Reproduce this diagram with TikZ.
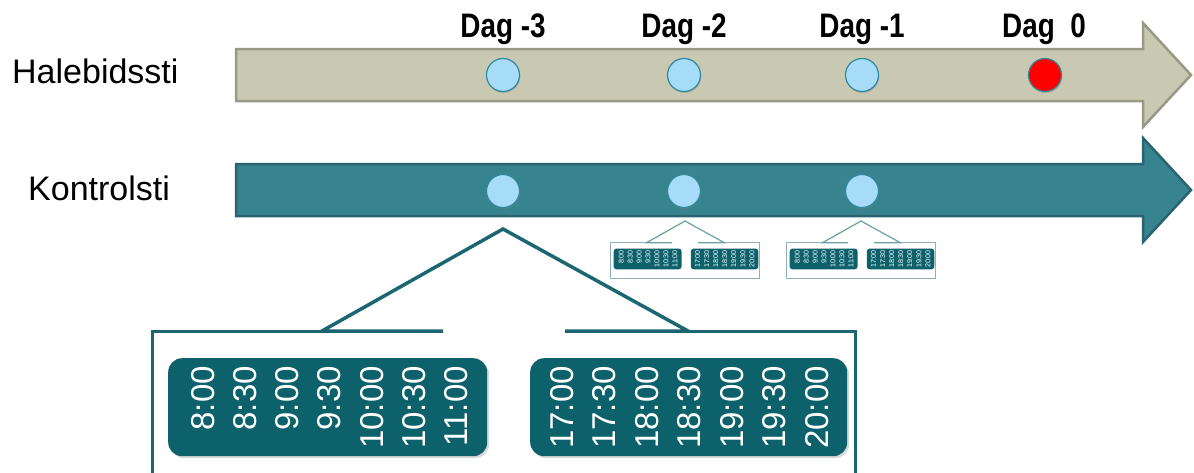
\documentclass[tikz,border=0pt]{standalone}
\usepackage{fontspec}
\setmainfont{Liberation Sans}
\newfontfamily\dagfont[FakeStretch=0.82]{Liberation Sans}
\usetikzlibrary{shadows}
\definecolor{sandfill}{HTML}{C9C8B2}
\definecolor{sandedge}{HTML}{9A9986}
\definecolor{tealfill}{HTML}{37838F}
\definecolor{tealedge}{HTML}{2A6470}
\definecolor{dotfill}{HTML}{A6DCF7}
\definecolor{dotedge}{HTML}{2F8A9C}
\definecolor{boxfill}{HTML}{0C616B}
\definecolor{callline}{HTML}{1B6670}
\definecolor{smallline}{HTML}{6B9FA6}
\definecolor{smallframecol}{HTML}{8FB0B5}
\tikzset{
 sandarrow/.style={fill=sandfill, draw=sandedge, line width=2.5pt, line join=miter},
 tealarrow/.style={fill=tealfill, draw=tealedge, line width=2.5pt, line join=miter},
 dot/.style={circle, inner sep=0pt, minimum size=33pt, draw=dotedge, line width=1.2pt, fill=dotfill,
   drop shadow={opacity=0.35, shadow xshift=0.8pt, shadow yshift=-1.5pt}},
 hotdot/.style={dot, fill=red},
 daglabel/.style={inner sep=0pt, anchor=base, font=\dagfont\bfseries\fontsize{34}{40}\selectfont},
 rowlabel/.style={inner sep=0pt, anchor=base west, font=\fontsize{34}{40}\selectfont},
 bigleg/.style={draw=callline, line width=3.5pt},
 bigframe/.style={draw=callline, line width=3pt},
 bigslot/.style={fill=boxfill, rounded corners=14pt, inner sep=0pt,
   drop shadow={opacity=0.3, shadow xshift=2pt, shadow yshift=-2pt}},
 bigtime/.style={text=white, rotate=90, inner sep=0pt, font=\fontsize{33}{36}\selectfont},
 smallleg/.style={draw=smallline, line width=1.2pt},
 smallframe/.style={draw=smallframecol, line width=1pt},
 smallslot/.style={fill=boxfill, rounded corners=3pt, inner sep=0pt},
 smalltime/.style={bigtime},
}
% #1 name, #2 apex, #3 scale, #4 style prefix
\newcommand\timecallout[4]{%
\begin{scope}[shift={#2}, scale=#3, transform shape]
 \coordinate (#1-apex) at (0,0);
 \coordinate (#1-l) at (-181,102);
 \coordinate (#1-lg) at (-60,102);
 \coordinate (#1-rg) at (62,102);
 \coordinate (#1-r) at (185,102);
 \coordinate (#1-tl) at (-351,102);
 \coordinate (#1-tr) at (352,102);
 \coordinate (#1-bl) at (-351,270);
 \coordinate (#1-br) at (352,270);
 \draw[#4frame] (#1-lg) -- (#1-tl) -- (#1-bl) -- (#1-br) -- (#1-tr) -- (#1-rg);
 \draw[#4leg] (#1-lg) -- (#1-l) -- (#1-apex) -- (#1-r) -- (#1-rg);
 \node[#4slot, minimum width=319pt, minimum height=98pt, anchor=north west] (#1-am) at (-335,129) {};
 \node[#4slot, minimum width=317pt, minimum height=98pt, anchor=north west] (#1-pm) at (27,129) {};
 \foreach \t [count=\i from 0] in {8:00,8:30,9:00,9:30,10:00,10:30,11:00}
   \node[#4time, anchor=east] (#1-a\i) at (-300+42.2*\i,137) {\t};
 \foreach \t [count=\i from 0] in {17:00,17:30,18:00,18:30,19:00,19:30,20:00}
   \node[#4time, anchor=east] (#1-p\i) at (59+42.5*\i,137) {\t};
\end{scope}}
\begin{document}
\begin{tikzpicture}[x=1pt,y=-1pt]
\clip (0,0) rectangle (1194,472);
\fill[white] (0,0) rectangle (1194,472);
% timelines
\draw[sandarrow] (236,49) -- (1143,49) -- (1143,23) -- (1191,75) -- (1143,127) -- (1143,101) -- (236,101) -- cycle;
\draw[tealarrow] (236,164) -- (1143,164) -- (1143,138) -- (1191,190) -- (1143,242) -- (1143,216) -- (236,216) -- cycle;
% row labels
\node[rowlabel] (hal) at (12,83) {Halebidssti};
\node[rowlabel] (kon) at (28,200) {Kontrolsti};
% day labels
\node[daglabel] (d3) at (503,37) {Dag -3};
\node[daglabel] (d2) at (684,37) {Dag -2};
\node[daglabel] (d1) at (862,37) {Dag -1};
\node[daglabel] (d0) at (1044,37) {Dag~~0};
% dots
\node[dot] (h3) at (503,75) {};
\node[dot] (h2) at (684,75) {};
\node[dot] (h1) at (862,75) {};
\node[hotdot] (h0) at (1045,75) {};
\node[dot] (k3) at (503,191) {};
\node[dot] (k2) at (684,191) {};
\node[dot] (k1) at (862,191) {};
% callouts
\timecallout{big}{(503,229)}{1}{big}
\timecallout{sa}{(685,221)}{0.213}{small}
\timecallout{sb}{(861,221)}{0.213}{small}
\end{tikzpicture}
\end{document}
